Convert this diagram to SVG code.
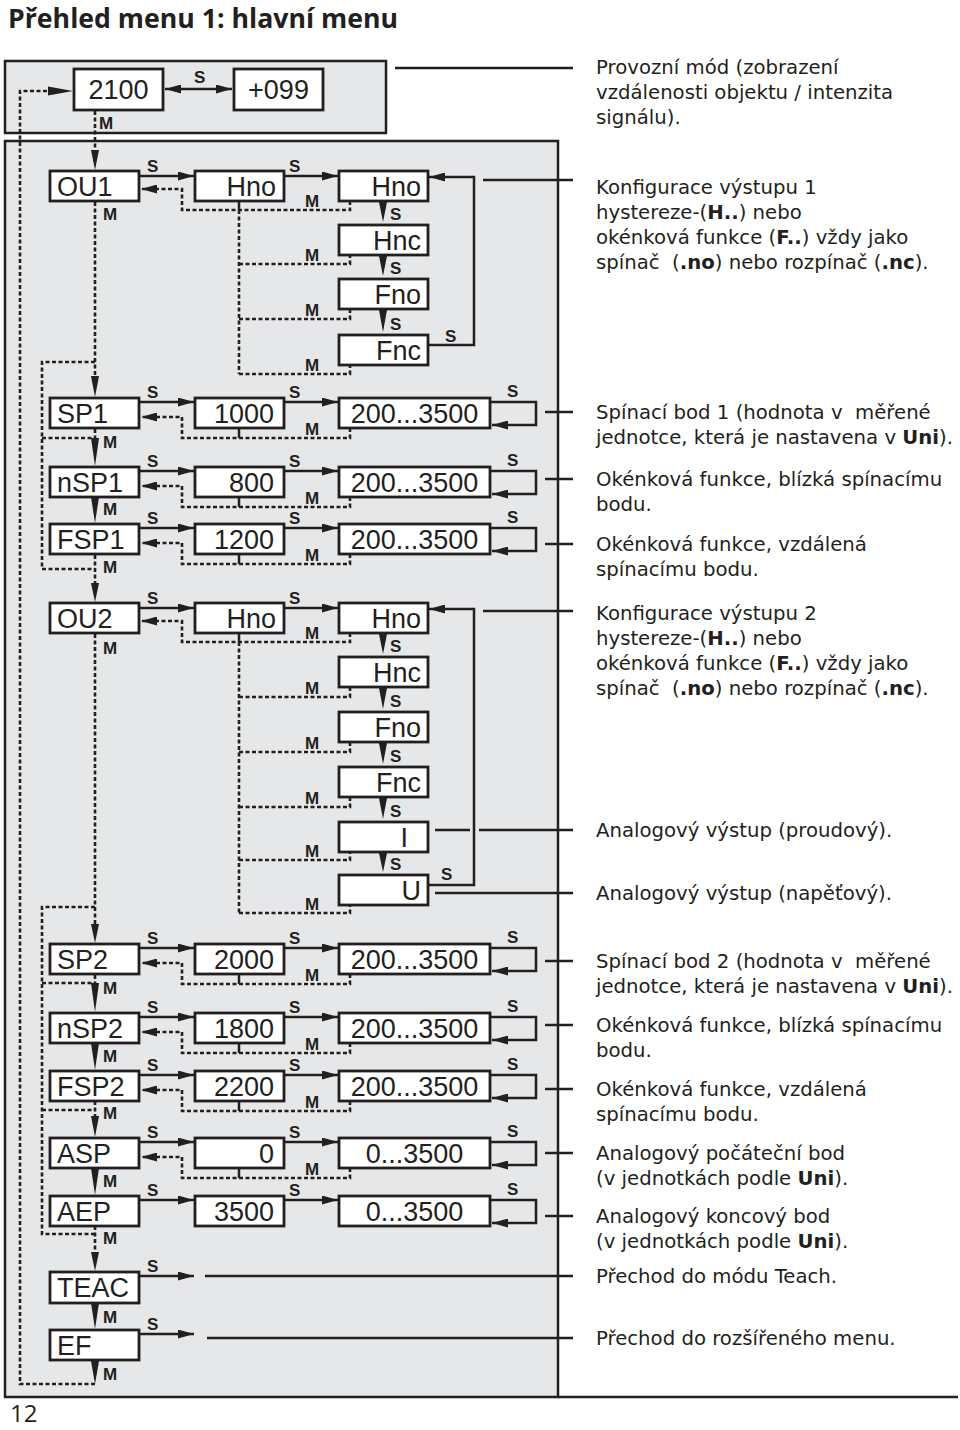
<svg xmlns="http://www.w3.org/2000/svg" width="960" height="1430" viewBox="0 0 960 1430">
<defs>
<style>
.panel{fill:#e6e7e8;stroke:#231f20;stroke-width:2.5}
.box{fill:#fff;stroke:#231f20;stroke-width:2.8}
.bt{font-family:"Liberation Sans",Arial,sans-serif;font-size:27px;fill:#231f20}
.e{text-anchor:end}
.m{text-anchor:middle}
.lb{font-family:"Liberation Sans",Arial,sans-serif;font-size:17px;font-weight:bold;fill:#231f20}
.ds{font-family:"DejaVu Sans","Open Sans",sans-serif;font-size:19.7px;fill:#231f20;white-space:pre}
.ds tspan.b{font-weight:bold}
.ln{fill:none;stroke:#231f20;stroke-width:2.5}
.ar{fill:none;stroke:#231f20;stroke-width:2.5;marker-end:url(#ah)}
.dt{fill:none;stroke:#231f20;stroke-width:2.6;stroke-dasharray:4 2.5}
.da{fill:none;stroke:#231f20;stroke-width:2.6;stroke-dasharray:4 2.5;marker-end:url(#ah)}
.wd{fill:#231f20}
</style>
<marker id="ah" viewBox="0 0 16 9" refX="16" refY="4.5" markerWidth="16" markerHeight="9" markerUnits="userSpaceOnUse" orient="auto-start-reverse"><path d="M0,0L16,4.5L0,9z" fill="#231f20"/></marker>
</defs>
<rect width="960" height="1430" fill="#fff"/>
<text x="8" y="28" textLength="390" lengthAdjust="spacingAndGlyphs" style="font-family:'Open Sans','Noto Sans',sans-serif;font-size:26px;font-weight:bold;fill:#231f20">Přehled menu 1: hlavní menu</text>
<g id="panels">
<rect class="panel" x="5" y="61" width="381" height="72"/>
<rect class="panel" x="5" y="141" width="553" height="1256"/>
<line class="ln" x1="558" y1="1397" x2="958" y2="1397"/>
</g>
<g id="connectors">
<!-- top -->
<line class="ln" x1="165" y1="89" x2="232" y2="89" marker-start="url(#ah)" marker-end="url(#ah)"/>
<text class="lb" x="194" y="83">S</text>
<line class="ln" x1="395" y1="68" x2="573" y2="68"/>
<!-- outer loop -->
<polyline class="dt" points="95,1384 20,1384 20,91 50,91"/>
<polygon class="wd" points="48,86.5 73,91 48,95.5"/>
<!-- left chain -->
<line class="dt" x1="95" y1="111" x2="95" y2="152"/>
<polygon class="wd" points="91,150 99,150 95,170"/>
<text class="lb" x="99" y="129">M</text>
<line class="dt" x1="95" y1="202" x2="95" y2="378"/>
<polygon class="wd" points="91,376 99,376 95,397"/>
<text class="lb" x="103" y="220">M</text>
<polyline class="dt" points="95,362 42,362 42,569 95,569"/>
<line class="dt" x1="42" y1="438" x2="95" y2="438"/>
<line class="dt" x1="95" y1="429" x2="95" y2="439"/>
<polygon class="wd" points="91,438 99,438 95,466"/>
<text class="lb" x="103" y="448">M</text>
<polygon class="wd" points="91,497 99,497 95,523"/>
<text class="lb" x="103" y="515">M</text>
<line class="dt" x1="95" y1="555" x2="95" y2="585"/>
<polygon class="wd" points="91,583 99,583 95,602"/>
<text class="lb" x="103" y="573">M</text>
<line class="dt" x1="95" y1="634" x2="95" y2="926"/>
<polygon class="wd" points="91,924 99,924 95,943"/>
<text class="lb" x="103" y="654">M</text>
<polyline class="dt" points="95,907 42,907 42,1234 95,1234"/>
<line class="dt" x1="42" y1="983" x2="95" y2="983"/>
<line class="dt" x1="42" y1="1110" x2="95" y2="1110"/>
<line class="dt" x1="95" y1="975" x2="95" y2="984"/>
<polygon class="wd" points="91,983 99,983 95,1012"/>
<text class="lb" x="103" y="994">M</text>
<polygon class="wd" points="91,1043 99,1043 95,1070"/>
<text class="lb" x="103" y="1062">M</text>
<line class="dt" x1="95" y1="1101" x2="95" y2="1118"/>
<polygon class="wd" points="91,1116 99,1116 95,1137"/>
<text class="lb" x="103" y="1119">M</text>
<polygon class="wd" points="91,1168 99,1168 95,1195"/>
<text class="lb" x="103" y="1187">M</text>
<line class="dt" x1="95" y1="1226" x2="95" y2="1254"/>
<polygon class="wd" points="91,1252 99,1252 95,1271"/>
<text class="lb" x="103" y="1244">M</text>
<polygon class="wd" points="91,1303 99,1303 95,1329"/>
<text class="lb" x="103" y="1323">M</text>
<polygon class="wd" points="91,1361 99,1361 95,1384"/>
<text class="lb" x="103" y="1380">M</text>

<!-- OU1 row -->
<line class="ar" x1="139" y1="176" x2="194" y2="176"/>
<text class="lb" x="147" y="172">S</text>
<line class="ar" x1="284" y1="176" x2="338" y2="176"/>
<text class="lb" x="289" y="172">S</text>
<polyline class="da" points="350,201 350,210 182,210 182,189 141,189"/>
<text class="lb" x="305" y="207">M</text>
<line class="ln" x1="239" y1="201" x2="239" y2="210"/>
<line class="dt" x1="239" y1="210" x2="239" y2="374"/>
<polyline class="dt" points="239,264 350,264 350,255"/>
<text class="lb" x="305" y="261">M</text>
<polyline class="dt" points="239,319 350,319 350,309"/>
<text class="lb" x="305" y="316">M</text>
<polyline class="dt" points="239,374 350,374 350,365"/>
<text class="lb" x="305" y="371">M</text>
<polygon class="wd" points="379,202 387,202 383,222"/>
<text class="lb" x="390" y="220">S</text>
<polygon class="wd" points="379,256 387,256 383,276"/>
<text class="lb" x="390" y="274">S</text>
<polygon class="wd" points="379,310 387,310 383,332"/>
<text class="lb" x="390" y="330">S</text>
<polyline class="ar" points="428,345 474,345 474,177 429,177"/>
<text class="lb" x="445" y="342">S</text>
<line class="ln" x1="483" y1="180" x2="573" y2="180"/>

<!-- SP1 -->
<line class="ar" x1="139" y1="402" x2="194" y2="402"/>
<text class="lb" x="147" y="398">S</text>
<line class="ar" x1="284" y1="402" x2="338" y2="402"/>
<text class="lb" x="289" y="398">S</text>
<polyline class="da" points="350,428 350,438 182,438 182,417 141,417"/>
<line class="ln" x1="239" y1="428" x2="239" y2="438"/>
<text class="lb" x="305" y="435">M</text>
<polyline class="ar" points="490,402 536,402 536,425 492,425"/>
<text class="lb" x="507" y="397">S</text>
<line class="ln" x1="545" y1="412" x2="573" y2="412"/>
<!-- nSP1 -->
<line class="ar" x1="139" y1="471" x2="194" y2="471"/>
<text class="lb" x="147" y="467">S</text>
<line class="ar" x1="284" y1="471" x2="338" y2="471"/>
<text class="lb" x="289" y="467">S</text>
<polyline class="da" points="350,497 350,507 182,507 182,486 141,486"/>
<line class="ln" x1="239" y1="497" x2="239" y2="507"/>
<text class="lb" x="305" y="504">M</text>
<polyline class="ar" points="490,471 536,471 536,494 492,494"/>
<text class="lb" x="507" y="466">S</text>
<line class="ln" x1="545" y1="479" x2="573" y2="479"/>
<!-- FSP1 -->
<line class="ar" x1="139" y1="528" x2="194" y2="528"/>
<text class="lb" x="147" y="524">S</text>
<line class="ar" x1="284" y1="528" x2="338" y2="528"/>
<text class="lb" x="289" y="524">S</text>
<polyline class="da" points="350,554 350,564 182,564 182,543 141,543"/>
<line class="ln" x1="239" y1="554" x2="239" y2="564"/>
<text class="lb" x="305" y="561">M</text>
<polyline class="ar" points="490,528 536,528 536,551 492,551"/>
<text class="lb" x="507" y="523">S</text>
<line class="ln" x1="545" y1="544" x2="573" y2="544"/>

<!-- OU2 -->
<line class="ar" x1="139" y1="608" x2="194" y2="608"/>
<text class="lb" x="147" y="604">S</text>
<line class="ar" x1="284" y1="608" x2="338" y2="608"/>
<text class="lb" x="289" y="604">S</text>
<polyline class="da" points="350,633 350,642 182,642 182,621 141,621"/>
<text class="lb" x="305" y="639">M</text>
<line class="ln" x1="239" y1="633" x2="239" y2="642"/>
<line class="dt" x1="239" y1="642" x2="239" y2="913"/>
<polyline class="dt" points="239,697 350,697 350,687"/>
<text class="lb" x="305" y="694">M</text>
<polyline class="dt" points="239,752 350,752 350,742"/>
<text class="lb" x="305" y="749">M</text>
<polyline class="dt" points="239,807 350,807 350,797"/>
<text class="lb" x="305" y="804">M</text>
<polyline class="dt" points="239,860 350,860 350,852"/>
<text class="lb" x="305" y="857">M</text>
<polyline class="dt" points="239,913 350,913 350,905"/>
<text class="lb" x="305" y="910">M</text>
<polygon class="wd" points="379,634 387,634 383,654"/>
<text class="lb" x="390" y="652">S</text>
<polygon class="wd" points="379,688 387,688 383,709"/>
<text class="lb" x="390" y="707">S</text>
<polygon class="wd" points="379,743 387,743 383,764"/>
<text class="lb" x="390" y="762">S</text>
<polygon class="wd" points="379,798 387,798 383,819"/>
<text class="lb" x="390" y="817">S</text>
<polygon class="wd" points="379,853 387,853 383,872"/>
<text class="lb" x="390" y="870">S</text>
<polyline class="ar" points="428,885 474,885 474,609 429,609"/>
<text class="lb" x="441" y="880">S</text>
<line class="ln" x1="483" y1="611" x2="573" y2="611"/>
<line class="ln" x1="435" y1="830" x2="470" y2="830"/>
<line class="ln" x1="479" y1="830" x2="573" y2="830"/>
<line class="ln" x1="435" y1="893" x2="573" y2="893"/>

<!-- SP2 -->
<line class="ar" x1="139" y1="948" x2="194" y2="948"/>
<text class="lb" x="147" y="944">S</text>
<line class="ar" x1="284" y1="948" x2="338" y2="948"/>
<text class="lb" x="289" y="944">S</text>
<polyline class="da" points="350,974 350,984 182,984 182,963 141,963"/>
<line class="ln" x1="239" y1="974" x2="239" y2="984"/>
<text class="lb" x="305" y="981">M</text>
<polyline class="ar" points="490,948 536,948 536,971 492,971"/>
<text class="lb" x="507" y="943">S</text>
<line class="ln" x1="545" y1="961" x2="573" y2="961"/>
<!-- nSP2 -->
<line class="ar" x1="139" y1="1017" x2="194" y2="1017"/>
<text class="lb" x="147" y="1013">S</text>
<line class="ar" x1="284" y1="1017" x2="338" y2="1017"/>
<text class="lb" x="289" y="1013">S</text>
<polyline class="da" points="350,1043 350,1053 182,1053 182,1032 141,1032"/>
<line class="ln" x1="239" y1="1043" x2="239" y2="1053"/>
<text class="lb" x="305" y="1050">M</text>
<polyline class="ar" points="490,1017 536,1017 536,1040 492,1040"/>
<text class="lb" x="507" y="1012">S</text>
<line class="ln" x1="545" y1="1025" x2="573" y2="1025"/>
<!-- FSP2 -->
<line class="ar" x1="139" y1="1075" x2="194" y2="1075"/>
<text class="lb" x="147" y="1071">S</text>
<line class="ar" x1="284" y1="1075" x2="338" y2="1075"/>
<text class="lb" x="289" y="1071">S</text>
<polyline class="da" points="350,1101 350,1111 182,1111 182,1090 141,1090"/>
<line class="ln" x1="239" y1="1101" x2="239" y2="1111"/>
<text class="lb" x="305" y="1108">M</text>
<polyline class="ar" points="490,1075 536,1075 536,1098 492,1098"/>
<text class="lb" x="507" y="1070">S</text>
<line class="ln" x1="545" y1="1089" x2="573" y2="1089"/>
<!-- ASP -->
<line class="ar" x1="139" y1="1142" x2="194" y2="1142"/>
<text class="lb" x="147" y="1138">S</text>
<line class="ar" x1="284" y1="1142" x2="338" y2="1142"/>
<text class="lb" x="289" y="1138">S</text>
<polyline class="da" points="350,1168 350,1178 182,1178 182,1157 141,1157"/>
<line class="ln" x1="239" y1="1168" x2="239" y2="1178"/>
<text class="lb" x="305" y="1175">M</text>
<polyline class="ar" points="490,1142 536,1142 536,1165 492,1165"/>
<text class="lb" x="507" y="1137">S</text>
<line class="ln" x1="545" y1="1153" x2="573" y2="1153"/>
<!-- AEP -->
<line class="ar" x1="139" y1="1200" x2="194" y2="1200"/>
<text class="lb" x="147" y="1196">S</text>
<line class="ar" x1="284" y1="1200" x2="338" y2="1200"/>
<text class="lb" x="289" y="1196">S</text>
<polyline class="ar" points="490,1200 536,1200 536,1223 492,1223"/>
<text class="lb" x="507" y="1195">S</text>
<line class="ln" x1="545" y1="1216" x2="573" y2="1216"/>
<!-- TEAC / EF -->
<line class="ar" x1="139" y1="1276" x2="194" y2="1276"/>
<text class="lb" x="147" y="1272">S</text>
<line class="ln" x1="205" y1="1276" x2="573" y2="1276"/>
<line class="ar" x1="139" y1="1334" x2="194" y2="1334"/>
<text class="lb" x="147" y="1330">S</text>
<line class="ln" x1="207" y1="1338" x2="573" y2="1338"/>
</g>

<g id="node-2100"><rect class="box" x="74" y="69" width="89" height="41"/><text class="bt m" x="118.5" y="99">2100</text></g>
<g id="node-099"><rect class="box" x="234" y="69" width="89" height="41"/><text class="bt m" x="278.5" y="99">+099</text></g>

<g id="node-OU1"><rect class="box" x="50" y="171" width="89" height="30"/><text class="bt" x="57" y="195.5">OU1</text></g>
<g id="node-OU1-Hno"><rect class="box" x="195" y="171" width="89" height="30"/><text class="bt e" x="276" y="195.5">Hno</text></g>
<g id="node-OU1-Hno2"><rect class="box" x="339" y="171" width="89" height="30"/><text class="bt e" x="421" y="195.5">Hno</text></g>
<g id="node-OU1-Hnc"><rect class="box" x="339" y="225" width="89" height="30"/><text class="bt e" x="421" y="249.5">Hnc</text></g>
<g id="node-OU1-Fno"><rect class="box" x="339" y="279" width="89" height="30"/><text class="bt e" x="421" y="303.5">Fno</text></g>
<g id="node-OU1-Fnc"><rect class="box" x="339" y="335" width="89" height="30"/><text class="bt e" x="421" y="359.5">Fnc</text></g>

<g id="node-SP1"><rect class="box" x="50" y="398" width="89" height="30"/><text class="bt" x="57" y="422.5">SP1</text></g>
<g id="node-SP1-val"><rect class="box" x="195" y="398" width="89" height="30"/><text class="bt e" x="274" y="422.5">1000</text></g>
<g id="node-SP1-range"><rect class="box" x="339" y="398" width="151" height="30"/><text class="bt m" x="414.5" y="422.5">200...3500</text></g>
<g id="node-nSP1"><rect class="box" x="50" y="467" width="89" height="30"/><text class="bt" x="57" y="491.5">nSP1</text></g>
<g id="node-nSP1-val"><rect class="box" x="195" y="467" width="89" height="30"/><text class="bt e" x="274" y="491.5">800</text></g>
<g id="node-nSP1-range"><rect class="box" x="339" y="467" width="151" height="30"/><text class="bt m" x="414.5" y="491.5">200...3500</text></g>
<g id="node-FSP1"><rect class="box" x="50" y="524" width="89" height="30"/><text class="bt" x="57" y="548.5">FSP1</text></g>
<g id="node-FSP1-val"><rect class="box" x="195" y="524" width="89" height="30"/><text class="bt e" x="274" y="548.5">1200</text></g>
<g id="node-FSP1-range"><rect class="box" x="339" y="524" width="151" height="30"/><text class="bt m" x="414.5" y="548.5">200...3500</text></g>

<g id="node-OU2"><rect class="box" x="50" y="603" width="89" height="30"/><text class="bt" x="57" y="627.5">OU2</text></g>
<g id="node-OU2-Hno"><rect class="box" x="195" y="603" width="89" height="30"/><text class="bt e" x="276" y="627.5">Hno</text></g>
<g id="node-OU2-Hno2"><rect class="box" x="339" y="603" width="89" height="30"/><text class="bt e" x="421" y="627.5">Hno</text></g>
<g id="node-OU2-Hnc"><rect class="box" x="339" y="657" width="89" height="30"/><text class="bt e" x="421" y="681.5">Hnc</text></g>
<g id="node-OU2-Fno"><rect class="box" x="339" y="712" width="89" height="30"/><text class="bt e" x="421" y="736.5">Fno</text></g>
<g id="node-OU2-Fnc"><rect class="box" x="339" y="767" width="89" height="30"/><text class="bt e" x="421" y="791.5">Fnc</text></g>
<g id="node-OU2-I"><rect class="box" x="339" y="822" width="89" height="30"/><text class="bt e" x="408" y="846.5">I</text></g>
<g id="node-OU2-U"><rect class="box" x="339" y="875" width="89" height="30"/><text class="bt e" x="421" y="899.5">U</text></g>

<g id="node-SP2"><rect class="box" x="50" y="944" width="89" height="30"/><text class="bt" x="57" y="968.5">SP2</text></g>
<g id="node-SP2-val"><rect class="box" x="195" y="944" width="89" height="30"/><text class="bt e" x="274" y="968.5">2000</text></g>
<g id="node-SP2-range"><rect class="box" x="339" y="944" width="151" height="30"/><text class="bt m" x="414.5" y="968.5">200...3500</text></g>
<g id="node-nSP2"><rect class="box" x="50" y="1013" width="89" height="30"/><text class="bt" x="57" y="1037.5">nSP2</text></g>
<g id="node-nSP2-val"><rect class="box" x="195" y="1013" width="89" height="30"/><text class="bt e" x="274" y="1037.5">1800</text></g>
<g id="node-nSP2-range"><rect class="box" x="339" y="1013" width="151" height="30"/><text class="bt m" x="414.5" y="1037.5">200...3500</text></g>
<g id="node-FSP2"><rect class="box" x="50" y="1071" width="89" height="30"/><text class="bt" x="57" y="1095.5">FSP2</text></g>
<g id="node-FSP2-val"><rect class="box" x="195" y="1071" width="89" height="30"/><text class="bt e" x="274" y="1095.5">2200</text></g>
<g id="node-FSP2-range"><rect class="box" x="339" y="1071" width="151" height="30"/><text class="bt m" x="414.5" y="1095.5">200...3500</text></g>
<g id="node-ASP"><rect class="box" x="50" y="1138" width="89" height="30"/><text class="bt" x="57" y="1162.5">ASP</text></g>
<g id="node-ASP-val"><rect class="box" x="195" y="1138" width="89" height="30"/><text class="bt e" x="274" y="1162.5">0</text></g>
<g id="node-ASP-range"><rect class="box" x="339" y="1138" width="151" height="30"/><text class="bt m" x="414.5" y="1162.5">0...3500</text></g>
<g id="node-AEP"><rect class="box" x="50" y="1196" width="89" height="30"/><text class="bt" x="57" y="1220.5">AEP</text></g>
<g id="node-AEP-val"><rect class="box" x="195" y="1196" width="89" height="30"/><text class="bt e" x="274" y="1220.5">3500</text></g>
<g id="node-AEP-range"><rect class="box" x="339" y="1196" width="151" height="30"/><text class="bt m" x="414.5" y="1220.5">0...3500</text></g>
<g id="node-TEAC"><rect class="box" x="50" y="1272" width="89" height="31"/><text class="bt" x="57" y="1297">TEAC</text></g>
<g id="node-EF"><rect class="box" x="50" y="1330" width="89" height="30"/><text class="bt" x="57" y="1354.5">EF</text></g>

<g id="descriptions">
<text class="ds" x="596" y="74">Provozní mód (zobrazení<tspan x="596" dy="25">vzdálenosti objektu / intenzita</tspan><tspan x="596" dy="25">signálu).</tspan></text>
<text class="ds" x="596" y="194">Konfigurace výstupu 1<tspan x="596" dy="25">hystereze-(<tspan class="b">H..</tspan>) nebo</tspan><tspan x="596" dy="25">okénková funkce (<tspan class="b">F..</tspan>) vždy jako</tspan><tspan x="596" dy="25">spínač  (<tspan class="b">.no</tspan>) nebo rozpínač (<tspan class="b">.nc</tspan>).</tspan></text>
<text class="ds" x="596" y="419">Spínací bod 1 (hodnota v  měřené<tspan x="596" dy="25">jednotce, která je nastavena v <tspan class="b">Uni</tspan>).</tspan></text>
<text class="ds" x="596" y="486">Okénková funkce, blízká spínacímu<tspan x="596" dy="25">bodu.</tspan></text>
<text class="ds" x="596" y="551">Okénková funkce, vzdálená<tspan x="596" dy="25">spínacímu bodu.</tspan></text>
<text class="ds" x="596" y="620">Konfigurace výstupu 2<tspan x="596" dy="25">hystereze-(<tspan class="b">H..</tspan>) nebo</tspan><tspan x="596" dy="25">okénková funkce (<tspan class="b">F..</tspan>) vždy jako</tspan><tspan x="596" dy="25">spínač  (<tspan class="b">.no</tspan>) nebo rozpínač (<tspan class="b">.nc</tspan>).</tspan></text>
<text class="ds" x="596" y="837">Analogový výstup (proudový).</text>
<text class="ds" x="596" y="900">Analogový výstup (napěťový).</text>
<text class="ds" x="596" y="968">Spínací bod 2 (hodnota v  měřené<tspan x="596" dy="25">jednotce, která je nastavena v <tspan class="b">Uni</tspan>).</tspan></text>
<text class="ds" x="596" y="1032">Okénková funkce, blízká spínacímu<tspan x="596" dy="25">bodu.</tspan></text>
<text class="ds" x="596" y="1096">Okénková funkce, vzdálená<tspan x="596" dy="25">spínacímu bodu.</tspan></text>
<text class="ds" x="596" y="1160">Analogový počáteční bod<tspan x="596" dy="25">(v jednotkách podle <tspan class="b">Uni</tspan>).</tspan></text>
<text class="ds" x="596" y="1223">Analogový koncový bod<tspan x="596" dy="25">(v jednotkách podle <tspan class="b">Uni</tspan>).</tspan></text>
<text class="ds" x="596" y="1283">Přechod do módu Teach.</text>
<text class="ds" x="596" y="1345">Přechod do rozšířeného menu.</text>
</g>
<text x="10" y="1422" style="font-family:'Open Sans','Noto Sans',sans-serif;font-size:24px;fill:#231f20">12</text>
</svg>
